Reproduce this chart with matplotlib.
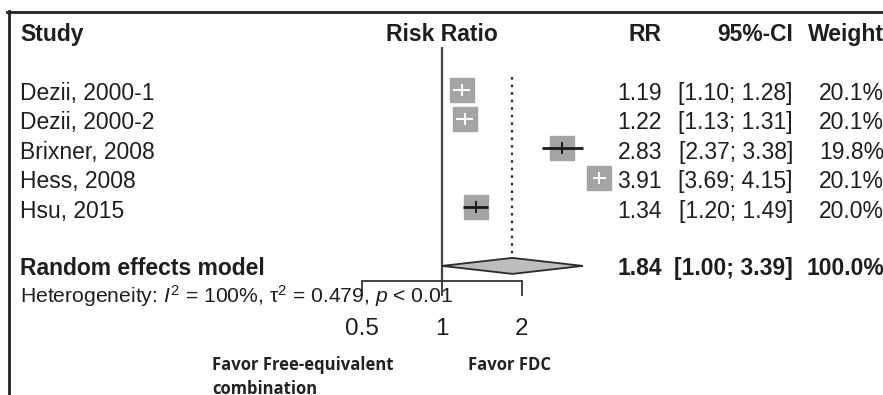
import numpy as np
import matplotlib
matplotlib.use("Agg")
import matplotlib.pyplot as plt
from matplotlib.lines import Line2D

# ---------------- data ----------------
studies = ["Dezii, 2000-1", "Dezii, 2000-2", "Brixner, 2008", "Hess, 2008", "Hsu, 2015"]
rr = [1.19, 1.22, 2.83, 3.91, 1.34]
ci_low = [1.10, 1.13, 2.37, 3.69, 1.20]
ci_high = [1.28, 1.31, 3.38, 4.15, 1.49]
weights = [20.1, 20.1, 19.8, 20.1, 20.0]
pooled_label = "Random effects model"
pooled_rr = 1.84
pooled_low = 1.00
pooled_high = 3.39
pooled_weight = 100.0
heterogeneity = r"Heterogeneity: $\mathit{I}^{2}$ = 100%, τ$^{2}$ = 0.479, $\mathit{p}$ < 0.01"
xticks = [0.5, 1, 2]
xticklabels = ["0.5", "1", "2"]
left_note = ["Favor Free-equivalent", "combination"]
right_note = "Favor FDC"

# ---------------- style ----------------
W, H = 883, 395
DPI = 100
TXT = "#1e1e1e"
BOX = "#a4a4a4"
FONT = "Liberation Sans"
plt.rcParams["font.family"] = [FONT, "DejaVu Sans"]
plt.rcParams["mathtext.fontset"] = "custom"
plt.rcParams["mathtext.rm"] = FONT
plt.rcParams["mathtext.it"] = FONT + ":italic"
plt.rcParams["mathtext.bf"] = FONT + ":bold"

fig = plt.figure(figsize=(W / DPI, H / DPI), dpi=DPI)
fig.patch.set_facecolor("white")

def fx(px):
    return px / W

def fy(py):
    return 1 - py / H

# forest axes: x from 0.5 (px 362) to 2 (px 522); y rows
ROW0, ROWSTEP = 89.5, 29.4
ax_top, ax_bot = 47, 281
ax = fig.add_axes([fx(362), fy(ax_bot), (522 - 362) / W, (ax_bot - ax_top) / H])
ax.set_xscale("log")
ax.set_xlim(0.5, 2)
ax.set_ylim((ax_bot - ROW0) / ROWSTEP, (ax_top - ROW0) / ROWSTEP)
ax.patch.set_alpha(0)
for s in ["top", "right", "left"]:
    ax.spines[s].set_visible(False)
ax.spines["bottom"].set_color("#333333")
ax.spines["bottom"].set_linewidth(1.3)
ax.set_yticks([])
ax.set_xticks(xticks)
ax.set_xticklabels(xticklabels)
ax.xaxis.set_minor_locator(matplotlib.ticker.NullLocator())
ax.tick_params(axis="x", direction="out", length=11, width=1.3, color="#333333",
               labelsize=17.5, labelcolor=TXT, pad=15.5)

rows = np.arange(len(studies))
pooled_row = 6.0

# null line and pooled dotted line
ax.axvline(1, color="#444444", lw=1.6, zorder=1)
dh = 8 / ROWSTEP
ax.vlines(pooled_rr, -0.42, pooled_row - dh, colors="#333333", lw=1.6,
          linestyles=(0, (1.2, 2.2)), zorder=1)

# study boxes and CIs
box_px = 24
wmax = max(weights)
fig.canvas.draw()
for r, m, lo, hi, w in zip(rows, rr, ci_low, ci_high, weights):
    side = box_px * np.sqrt(w / wmax)
    ax.plot([m], [r], marker="s", ms=side * 72 / DPI, color=BOX, mec=BOX,
            ls="none", clip_on=False, zorder=3)
    xm = ax.transData.transform((m, r))[0]
    xl = ax.transData.transform((lo, r))[0]
    xh = ax.transData.transform((hi, r))[0]
    inside = (xm - xl) < side / 2 and (xh - xm) < side / 2
    col = "white" if inside else "#1a1a1a"
    ax.plot([lo, hi], [r, r], color=col, lw=2.0 if not inside else 1.5, clip_on=False,
            zorder=4, solid_capstyle="butt")
    ax.plot([m], [r], marker="|", ms=9, mew=1.4, color=col, clip_on=False, zorder=4)

# pooled diamond
ax.fill([pooled_low, pooled_rr, pooled_high, pooled_rr],
        [pooled_row, pooled_row - dh, pooled_row, pooled_row + dh],
        facecolor="#bdbdbd", edgecolor="#2a2a2a", lw=1.3, clip_on=False, zorder=3)

# ---------------- text ----------------
FS = 16.5
def T(x, y, s, ha="left", bold=False, size=FS, **kw):
    fig.text(fx(x), fy(y), s, ha=ha, va="baseline", fontsize=size, color=TXT,
             fontweight="bold" if bold else "normal", **kw)

RX = 884
# headers
T(20, 41, "Study", bold=True)
T(441.5, 41, "Risk Ratio", ha="center", bold=True)
T(662, 41, "RR", ha="right", bold=True)
T(793, 41, "95%-CI", ha="right", bold=True)
T(RX, 41, "Weight", ha="right", bold=True)

for r, name, m, lo, hi, w in zip(rows, studies, rr, ci_low, ci_high, weights):
    yb = ROW0 + ROWSTEP * r + 10.5
    T(20, yb, name)
    T(662, yb, f"{m:.2f}", ha="right")
    T(793, yb, f"[{lo:.2f}; {hi:.2f}]", ha="right")
    T(RX, yb, f"{w:.1f}%", ha="right")

yb = ROW0 + ROWSTEP * pooled_row + 9.5
T(20, yb, pooled_label, bold=True)
T(662, yb, f"{pooled_rr:.2f}", ha="right", bold=True)
T(793, yb, f"[{pooled_low:.2f}; {pooled_high:.2f}]", ha="right", bold=True)
T(RX, yb, f"{pooled_weight:.1f}%", ha="right", bold=True)

T(20, 303, heterogeneity, size=15.2)

# notes
NOTE_FAM = ["Open Sans", "DejaVu Sans"]
fig.text(fx(212), fy(370), left_note[0], ha="left", va="baseline", fontsize=12,
         fontweight="bold", color="#222222", family=NOTE_FAM)
fig.text(fx(212), fy(394), left_note[1], ha="left", va="baseline", fontsize=12,
         fontweight="bold", color="#222222", family=NOTE_FAM)
fig.text(fx(509), fy(370), right_note, ha="center", va="baseline", fontsize=12,
         fontweight="bold", color="#222222", family=NOTE_FAM)

# frame lines (top and left)
fig.add_artist(Line2D([fx(7.5), fx(W + 5)], [fy(12), fy(12)], color="#222222", lw=2.0))
fig.add_artist(Line2D([fx(8.7), fx(8.7)], [fy(11.3), fy(H + 5)], color="#222222", lw=2.0))

fig.savefig("out.png", dpi=DPI)
